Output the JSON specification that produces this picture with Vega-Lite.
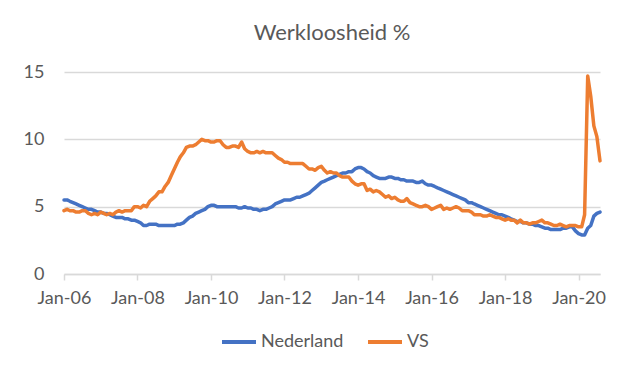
{
  "$schema": "https://vega.github.io/schema/vega-lite/v6.json",
  "width": 536,
  "height": 202,
  "autosize": "none",
  "padding": {"left": 64, "top": 72, "right": 25, "bottom": 102},
  "background": "white",
  "title": {"text": "Werkloosheid %", "fontSize": 22, "font": "Lato", "fontWeight": "normal", "color": "#595959", "offset": 18, "anchor": "middle"},
  "config": {"view": {"stroke": null}},
  "data": {"values": [
    {"d":"2006-01-01","Nederland":5.5,"VS":4.7},{"d":"2006-02-01","Nederland":5.5,"VS":4.8},{"d":"2006-03-01","Nederland":5.4,"VS":4.7},{"d":"2006-04-01","Nederland":5.3,"VS":4.7},{"d":"2006-05-01","Nederland":5.2,"VS":4.6},{"d":"2006-06-01","Nederland":5.1,"VS":4.6},{"d":"2006-07-01","Nederland":5.0,"VS":4.7},{"d":"2006-08-01","Nederland":4.9,"VS":4.7},{"d":"2006-09-01","Nederland":4.8,"VS":4.5},{"d":"2006-10-01","Nederland":4.8,"VS":4.4},{"d":"2006-11-01","Nederland":4.7,"VS":4.5},{"d":"2006-12-01","Nederland":4.6,"VS":4.4},
    {"d":"2007-01-01","Nederland":4.6,"VS":4.6},{"d":"2007-02-01","Nederland":4.5,"VS":4.5},{"d":"2007-03-01","Nederland":4.5,"VS":4.4},{"d":"2007-04-01","Nederland":4.4,"VS":4.5},{"d":"2007-05-01","Nederland":4.3,"VS":4.4},{"d":"2007-06-01","Nederland":4.2,"VS":4.6},{"d":"2007-07-01","Nederland":4.2,"VS":4.7},{"d":"2007-08-01","Nederland":4.2,"VS":4.6},{"d":"2007-09-01","Nederland":4.1,"VS":4.7},{"d":"2007-10-01","Nederland":4.1,"VS":4.7},{"d":"2007-11-01","Nederland":4.0,"VS":4.7},{"d":"2007-12-01","Nederland":4.0,"VS":5.0},
    {"d":"2008-01-01","Nederland":3.9,"VS":5.0},{"d":"2008-02-01","Nederland":3.8,"VS":4.9},{"d":"2008-03-01","Nederland":3.6,"VS":5.1},{"d":"2008-04-01","Nederland":3.6,"VS":5.0},{"d":"2008-05-01","Nederland":3.7,"VS":5.4},{"d":"2008-06-01","Nederland":3.7,"VS":5.6},{"d":"2008-07-01","Nederland":3.7,"VS":5.8},{"d":"2008-08-01","Nederland":3.6,"VS":6.1},{"d":"2008-09-01","Nederland":3.6,"VS":6.1},{"d":"2008-10-01","Nederland":3.6,"VS":6.5},{"d":"2008-11-01","Nederland":3.6,"VS":6.8},{"d":"2008-12-01","Nederland":3.6,"VS":7.3},
    {"d":"2009-01-01","Nederland":3.6,"VS":7.8},{"d":"2009-02-01","Nederland":3.7,"VS":8.3},{"d":"2009-03-01","Nederland":3.7,"VS":8.7},{"d":"2009-04-01","Nederland":3.8,"VS":9.0},{"d":"2009-05-01","Nederland":4.0,"VS":9.4},{"d":"2009-06-01","Nederland":4.2,"VS":9.5},{"d":"2009-07-01","Nederland":4.3,"VS":9.5},{"d":"2009-08-01","Nederland":4.5,"VS":9.6},{"d":"2009-09-01","Nederland":4.6,"VS":9.8},{"d":"2009-10-01","Nederland":4.7,"VS":10.0},{"d":"2009-11-01","Nederland":4.8,"VS":9.9},{"d":"2009-12-01","Nederland":5.0,"VS":9.9},
    {"d":"2010-01-01","Nederland":5.1,"VS":9.8},{"d":"2010-02-01","Nederland":5.1,"VS":9.8},{"d":"2010-03-01","Nederland":5.0,"VS":9.9},{"d":"2010-04-01","Nederland":5.0,"VS":9.9},{"d":"2010-05-01","Nederland":5.0,"VS":9.6},{"d":"2010-06-01","Nederland":5.0,"VS":9.4},{"d":"2010-07-01","Nederland":5.0,"VS":9.4},{"d":"2010-08-01","Nederland":5.0,"VS":9.5},{"d":"2010-09-01","Nederland":5.0,"VS":9.5},{"d":"2010-10-01","Nederland":4.9,"VS":9.4},{"d":"2010-11-01","Nederland":4.9,"VS":9.8},{"d":"2010-12-01","Nederland":5.0,"VS":9.3},
    {"d":"2011-01-01","Nederland":4.9,"VS":9.1},{"d":"2011-02-01","Nederland":4.9,"VS":9.0},{"d":"2011-03-01","Nederland":4.8,"VS":9.0},{"d":"2011-04-01","Nederland":4.8,"VS":9.1},{"d":"2011-05-01","Nederland":4.7,"VS":9.0},{"d":"2011-06-01","Nederland":4.8,"VS":9.1},{"d":"2011-07-01","Nederland":4.8,"VS":9.0},{"d":"2011-08-01","Nederland":4.9,"VS":9.0},{"d":"2011-09-01","Nederland":5.0,"VS":9.0},{"d":"2011-10-01","Nederland":5.2,"VS":8.8},{"d":"2011-11-01","Nederland":5.3,"VS":8.6},{"d":"2011-12-01","Nederland":5.4,"VS":8.5},
    {"d":"2012-01-01","Nederland":5.5,"VS":8.3},{"d":"2012-02-01","Nederland":5.5,"VS":8.3},{"d":"2012-03-01","Nederland":5.5,"VS":8.2},{"d":"2012-04-01","Nederland":5.6,"VS":8.2},{"d":"2012-05-01","Nederland":5.7,"VS":8.2},{"d":"2012-06-01","Nederland":5.7,"VS":8.2},{"d":"2012-07-01","Nederland":5.8,"VS":8.2},{"d":"2012-08-01","Nederland":5.9,"VS":8.0},{"d":"2012-09-01","Nederland":6.0,"VS":7.8},{"d":"2012-10-01","Nederland":6.2,"VS":7.8},{"d":"2012-11-01","Nederland":6.4,"VS":7.7},{"d":"2012-12-01","Nederland":6.6,"VS":7.9},
    {"d":"2013-01-01","Nederland":6.8,"VS":8.0},{"d":"2013-02-01","Nederland":6.9,"VS":7.7},{"d":"2013-03-01","Nederland":7.0,"VS":7.5},{"d":"2013-04-01","Nederland":7.1,"VS":7.6},{"d":"2013-05-01","Nederland":7.2,"VS":7.5},{"d":"2013-06-01","Nederland":7.3,"VS":7.5},{"d":"2013-07-01","Nederland":7.4,"VS":7.3},{"d":"2013-08-01","Nederland":7.5,"VS":7.2},{"d":"2013-09-01","Nederland":7.5,"VS":7.2},{"d":"2013-10-01","Nederland":7.6,"VS":7.2},{"d":"2013-11-01","Nederland":7.6,"VS":6.9},{"d":"2013-12-01","Nederland":7.8,"VS":6.7},
    {"d":"2014-01-01","Nederland":7.9,"VS":6.6},{"d":"2014-02-01","Nederland":7.9,"VS":6.7},{"d":"2014-03-01","Nederland":7.8,"VS":6.7},{"d":"2014-04-01","Nederland":7.6,"VS":6.2},{"d":"2014-05-01","Nederland":7.5,"VS":6.3},{"d":"2014-06-01","Nederland":7.3,"VS":6.1},{"d":"2014-07-01","Nederland":7.2,"VS":6.2},{"d":"2014-08-01","Nederland":7.1,"VS":6.1},{"d":"2014-09-01","Nederland":7.1,"VS":5.9},{"d":"2014-10-01","Nederland":7.1,"VS":5.7},{"d":"2014-11-01","Nederland":7.2,"VS":5.8},{"d":"2014-12-01","Nederland":7.2,"VS":5.6},
    {"d":"2015-01-01","Nederland":7.1,"VS":5.7},{"d":"2015-02-01","Nederland":7.1,"VS":5.5},{"d":"2015-03-01","Nederland":7.0,"VS":5.4},{"d":"2015-04-01","Nederland":7.0,"VS":5.4},{"d":"2015-05-01","Nederland":6.9,"VS":5.6},{"d":"2015-06-01","Nederland":6.9,"VS":5.3},{"d":"2015-07-01","Nederland":6.9,"VS":5.2},{"d":"2015-08-01","Nederland":6.8,"VS":5.1},{"d":"2015-09-01","Nederland":6.8,"VS":5.0},{"d":"2015-10-01","Nederland":6.9,"VS":5.0},{"d":"2015-11-01","Nederland":6.7,"VS":5.1},{"d":"2015-12-01","Nederland":6.6,"VS":5.0},
    {"d":"2016-01-01","Nederland":6.6,"VS":4.8},{"d":"2016-02-01","Nederland":6.5,"VS":4.9},{"d":"2016-03-01","Nederland":6.4,"VS":5.0},{"d":"2016-04-01","Nederland":6.3,"VS":5.1},{"d":"2016-05-01","Nederland":6.2,"VS":4.8},{"d":"2016-06-01","Nederland":6.1,"VS":4.9},{"d":"2016-07-01","Nederland":6.0,"VS":4.8},{"d":"2016-08-01","Nederland":5.9,"VS":4.9},{"d":"2016-09-01","Nederland":5.8,"VS":5.0},{"d":"2016-10-01","Nederland":5.7,"VS":4.9},{"d":"2016-11-01","Nederland":5.6,"VS":4.7},{"d":"2016-12-01","Nederland":5.5,"VS":4.7},
    {"d":"2017-01-01","Nederland":5.3,"VS":4.7},{"d":"2017-02-01","Nederland":5.3,"VS":4.6},{"d":"2017-03-01","Nederland":5.2,"VS":4.4},{"d":"2017-04-01","Nederland":5.1,"VS":4.4},{"d":"2017-05-01","Nederland":5.0,"VS":4.4},{"d":"2017-06-01","Nederland":4.9,"VS":4.3},{"d":"2017-07-01","Nederland":4.8,"VS":4.3},{"d":"2017-08-01","Nederland":4.7,"VS":4.4},{"d":"2017-09-01","Nederland":4.6,"VS":4.3},{"d":"2017-10-01","Nederland":4.5,"VS":4.2},{"d":"2017-11-01","Nederland":4.4,"VS":4.2},{"d":"2017-12-01","Nederland":4.4,"VS":4.1},
    {"d":"2018-01-01","Nederland":4.3,"VS":4.0},{"d":"2018-02-01","Nederland":4.2,"VS":4.1},{"d":"2018-03-01","Nederland":4.1,"VS":4.0},{"d":"2018-04-01","Nederland":4.0,"VS":4.0},{"d":"2018-05-01","Nederland":3.9,"VS":3.8},{"d":"2018-06-01","Nederland":3.9,"VS":4.0},{"d":"2018-07-01","Nederland":3.8,"VS":3.8},{"d":"2018-08-01","Nederland":3.8,"VS":3.8},{"d":"2018-09-01","Nederland":3.7,"VS":3.7},{"d":"2018-10-01","Nederland":3.7,"VS":3.8},{"d":"2018-11-01","Nederland":3.6,"VS":3.8},{"d":"2018-12-01","Nederland":3.6,"VS":3.9},
    {"d":"2019-01-01","Nederland":3.5,"VS":4.0},{"d":"2019-02-01","Nederland":3.4,"VS":3.8},{"d":"2019-03-01","Nederland":3.4,"VS":3.8},{"d":"2019-04-01","Nederland":3.3,"VS":3.7},{"d":"2019-05-01","Nederland":3.3,"VS":3.6},{"d":"2019-06-01","Nederland":3.3,"VS":3.6},{"d":"2019-07-01","Nederland":3.3,"VS":3.7},{"d":"2019-08-01","Nederland":3.4,"VS":3.6},{"d":"2019-09-01","Nederland":3.4,"VS":3.5},{"d":"2019-10-01","Nederland":3.5,"VS":3.6},{"d":"2019-11-01","Nederland":3.5,"VS":3.6},{"d":"2019-12-01","Nederland":3.2,"VS":3.6},
    {"d":"2020-01-01","Nederland":3.0,"VS":3.5},{"d":"2020-02-01","Nederland":2.9,"VS":3.5},{"d":"2020-03-01","Nederland":2.9,"VS":4.4},{"d":"2020-04-01","Nederland":3.4,"VS":14.7},{"d":"2020-05-01","Nederland":3.6,"VS":13.2},{"d":"2020-06-01","Nederland":4.3,"VS":11.0},{"d":"2020-07-01","Nederland":4.5,"VS":10.2},{"d":"2020-08-01","Nederland":4.6,"VS":8.4}
  ]},
  "transform": [{"fold": ["Nederland", "VS"], "as": ["land", "v"]}],
  "mark": {"type": "line", "strokeWidth": 3.5, "strokeJoin": "round", "strokeCap": "round"},
  "encoding": {
    "x": {
      "field": "d", "type": "temporal",
      "scale": {"domain": [{"year": 2006, "month": 1, "date": 1}, {"year": 2020, "month": 8, "date": 1}], "nice": false},
      "axis": {"title": null, "format": "%b-%y", "tickCount": {"interval": "year", "step": 2}, "grid": false, "domainColor": "#d9d9d9", "domainWidth": 1.5, "tickColor": "#d9d9d9", "tickWidth": 1.5, "tickSize": 6, "labelPadding": 9, "labelFont": "Lato", "labelFontSize": 18, "labelColor": "#595959", "labelFlush": false, "labelOverlap": false}
    },
    "y": {
      "field": "v", "type": "quantitative",
      "scale": {"domain": [0, 15], "nice": false},
      "axis": {"title": null, "values": [0, 5, 10, 15], "domain": false, "ticks": false, "gridColor": "#d9d9d9", "gridWidth": 1.5, "labelPadding": 20, "labelFont": "Lato", "labelFontSize": 18, "labelColor": "#595959"}
    },
    "color": {
      "field": "land", "type": "nominal",
      "scale": {"domain": ["Nederland", "VS"], "range": ["#4472C4", "#ED7D31"]},
      "legend": {"title": null, "orient": "none", "legendX": 156, "legendY": 251, "direction": "horizontal", "symbolType": "stroke", "symbolSize": 1156, "symbolStrokeWidth": 4, "labelFont": "Lato", "labelFontSize": 18, "labelColor": "#595959", "labelOffset": 3, "columnPadding": 16}
    }
  }
}
